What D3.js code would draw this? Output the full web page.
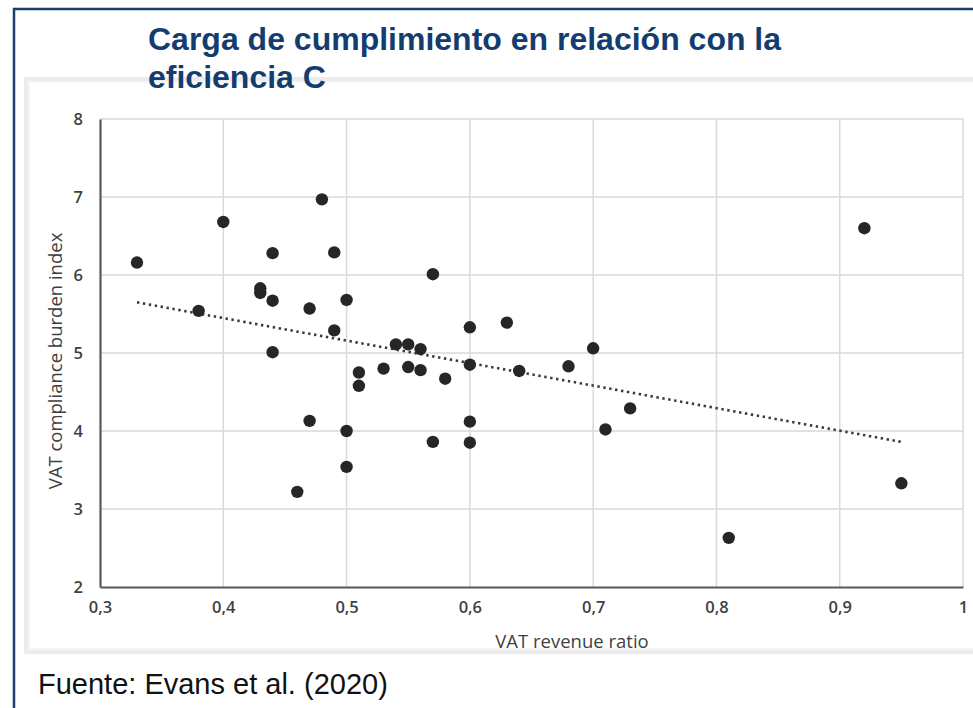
<!DOCTYPE html>
<html>
<head>
<meta charset="utf-8">
<script src="https://cdn.jsdelivr.net/npm/d3@7"></script>
<style>
  html, body { margin: 0; padding: 0; background: #ffffff; }
  svg { display: block; }
</style>
</head>
<body>
<svg id="chart" width="973" height="708"></svg>
<script>
// ---- Data ----
const vatRevenueRatio = [0.33, 0.38, 0.40, 0.43, 0.43, 0.44, 0.44, 0.44, 0.46, 0.47, 0.47, 0.48, 0.49, 0.49,
  0.50, 0.50, 0.50, 0.51, 0.51, 0.53, 0.54, 0.55, 0.55, 0.56, 0.56, 0.57, 0.57, 0.58,
  0.60, 0.60, 0.60, 0.60, 0.63, 0.64, 0.68, 0.70, 0.71, 0.73, 0.81, 0.92, 0.95];
const complianceBurden = [6.16, 5.54, 6.68, 5.83, 5.77, 6.28, 5.67, 5.01, 3.22, 5.57, 4.13, 6.97, 6.29, 5.29,
  5.68, 4.00, 3.54, 4.75, 4.58, 4.80, 5.11, 5.11, 4.82, 5.05, 4.78, 6.01, 3.86, 4.67,
  5.33, 4.85, 4.12, 3.85, 5.39, 4.77, 4.83, 5.06, 4.02, 4.29, 2.63, 6.60, 3.33];
const trendX = [0.33, 0.95];
const trendY = [5.65, 3.86];
const xTicks = [0.3, 0.4, 0.5, 0.6, 0.7, 0.8, 0.9, 1.0];
const yTicks = [2, 3, 4, 5, 6, 7, 8];
const titleLines = ["Carga de cumplimiento en relación con la", "eficiencia C"];
const xTitle = "VAT revenue ratio";
const yTitle = "VAT compliance burden index";
const sourceText = "Fuente: Evans et al. (2020)";

// ---- Drawing ----
const svg = d3.select("#chart");

// outer frame
svg.append("rect").attr("x", 14).attr("y", 9).attr("width", 980).attr("height", 720)
  .attr("fill", "none").attr("stroke", "#1f3d6b").attr("stroke-width", 2.5);

// picture panel with soft grey edge
svg.append("rect").attr("x", 26).attr("y", 79).attr("width", 970).attr("height", 573)
  .attr("fill", "#ffffff").attr("stroke", "#ececec").attr("stroke-width", 4);
svg.append("rect").attr("x", 29).attr("y", 82).attr("width", 970).attr("height", 567)
  .attr("fill", "none").attr("stroke", "#f6f6f6").attr("stroke-width", 2);

const x = d3.scaleLinear().domain([0.3, 1.0]).range([100, 963]);
const y = d3.scaleLinear().domain([2, 8]).range([587, 119]);

const fmt = d => (d === 1 ? "1" : d3.format(".1f")(d).replace(".", ","));

// gridlines
const grid = svg.append("g");
grid.selectAll("line.v").data(xTicks.slice(1)).join("line")
  .attr("x1", d => x(d)).attr("x2", d => x(d)).attr("y1", y(8)).attr("y2", y(2))
  .attr("stroke", "#d9d9d9").attr("stroke-width", 1.5);
grid.selectAll("line.h").data(yTicks.slice(1)).join("line")
  .attr("x1", x(0.3)).attr("x2", x(1.0)).attr("y1", d => y(d)).attr("y2", d => y(d))
  .attr("stroke", "#d9d9d9").attr("stroke-width", 1.5);

// axes
const xAxis = d3.axisBottom(x).tickValues(xTicks).tickFormat(fmt).tickSize(0).tickPadding(14);
const yAxis = d3.axisLeft(y).tickValues(yTicks).tickFormat(d => d).tickSize(0).tickPadding(17);

const gx = svg.append("g").attr("transform", `translate(0,${y(2)})`).call(xAxis);
const gy = svg.append("g").attr("transform", `translate(${x(0.3)},0)`).call(yAxis);
[gx, gy].forEach(g => {
  g.select(".domain").attr("stroke", "#595959").attr("stroke-width", 2.2);
  g.selectAll("text").attr("fill", "#3f3f3f").attr("font-family", "'Open Sans', sans-serif")
    .attr("font-size", 16.5).attr("font-weight", 600);
});

// trendline
svg.append("line")
  .attr("x1", x(trendX[0])).attr("y1", y(trendY[0]))
  .attr("x2", x(trendX[1])).attr("y2", y(trendY[1]))
  .attr("stroke", "#3a3a3a").attr("stroke-width", 2.6).attr("stroke-dasharray", "2.4 3.6");

// points
const pts = vatRevenueRatio.map((v, i) => ({ x: v, y: complianceBurden[i] }));
svg.append("g").selectAll("circle").data(pts).join("circle")
  .attr("cx", d => x(d.x)).attr("cy", d => y(d.y)).attr("r", 6.2)
  .attr("fill", "#262626");

// axis titles
svg.append("text").attr("x", 572).attr("y", 648).attr("text-anchor", "middle")
  .attr("font-family", "'Open Sans', sans-serif").attr("font-size", 18.5).attr("fill", "#3f3f3f")
  .text(xTitle);
svg.append("text").attr("transform", `translate(62,${361}) rotate(-90)`).attr("text-anchor", "middle")
  .attr("font-family", "'Open Sans', sans-serif").attr("font-size", 18.5).attr("fill", "#3f3f3f")
  .text(yTitle);

// title
const title = svg.append("text").attr("font-family", "'Liberation Sans', Arial, sans-serif")
  .attr("font-weight", "bold").attr("font-size", 32).attr("fill", "#133d70");
titleLines.forEach((t, i) => {
  title.append("tspan").attr("x", 148).attr("y", 50 + i * 38).text(t);
});

// source
svg.append("text").attr("x", 38).attr("y", 694)
  .attr("font-family", "'Liberation Sans', Arial, sans-serif").attr("font-size", 29)
  .attr("fill", "#111111").text(sourceText);
</script>
</body>
</html>
